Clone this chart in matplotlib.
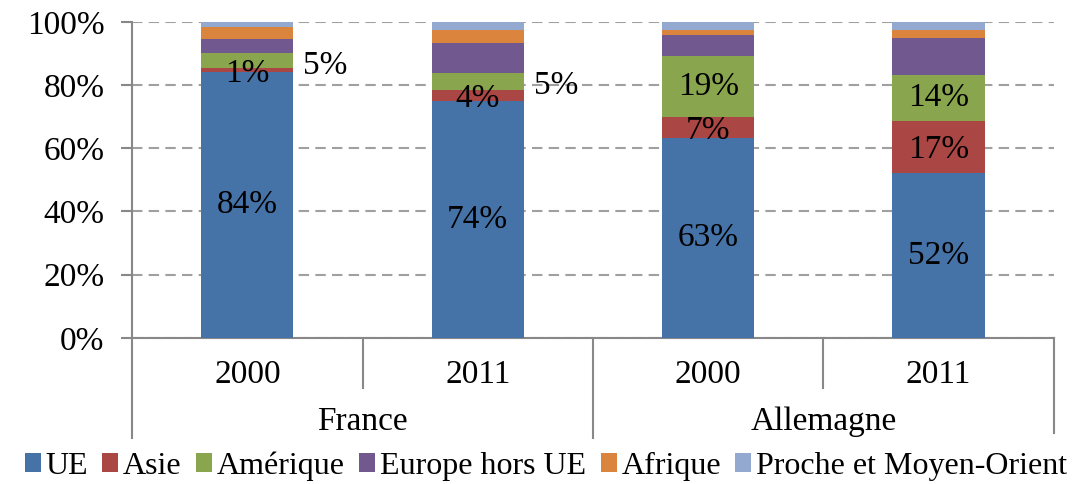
import numpy as np
import matplotlib.pyplot as plt
import matplotlib.transforms as mtransforms

plt.rcParams['font.family'] = ['Liberation Serif', 'DejaVu Serif']

years = ["2000", "2011", "2000", "2011"]
countries = ["France", "Allemagne"]
regions = ["UE", "Asie", "Amérique", "Europe hors UE", "Afrique", "Proche et Moyen-Orient"]
colors = ["#4572A7", "#AA4643", "#89A54E", "#71588F", "#DB843D", "#93A9CF"]

# share of exports (%) per region, one value per bar
ue = [84.0, 74.8, 63.2, 52.1]
asie = [1.3, 3.7, 6.6, 16.6]
amerique = [4.8, 5.3, 19.4, 14.5]
europe_hors_ue = [4.5, 9.5, 6.7, 11.6]
afrique = [3.7, 4.2, 1.6, 2.7]
proche_orient = [1.7, 2.5, 2.5, 2.5]

# printed labels (UE, Asie, Amérique)
lab_ue = ["84%", "74%", "63%", "52%"]
lab_asie = ["1%", "4%", "7%", "17%"]
lab_amerique = ["5%", "5%", "19%", "14%"]
outside = [True, True, False, False]

series = [ue, asie, amerique, europe_hors_ue, afrique, proche_orient]
fs = 24

fig = plt.figure(figsize=(10.92, 4.84), dpi=100)
ax = fig.add_axes([0.121, 0.302, 0.844, 0.653])

x = np.arange(len(years))
bottom = np.zeros(len(years))
bottoms = []
for vals, col, name in zip(series, colors, regions):
    bottoms.append(bottom.copy())
    ax.bar(x, vals, 0.4, bottom=bottom, color=col, label=name, zorder=3)
    bottom = bottom + np.array(vals)

# data labels
for i in range(len(years)):
    ax.text(x[i], bottoms[0][i] + ue[i] / 2, lab_ue[i], ha="center", va="center", fontsize=fs, zorder=4)
    ax.text(x[i], bottoms[1][i] + asie[i] / 2 - 1, lab_asie[i], ha="center", va="center", fontsize=fs, zorder=4)
    yc = bottoms[2][i] + amerique[i] / 2
    if outside[i]:
        ax.text(x[i] + 0.34, yc - 1.5, lab_amerique[i], ha="center", va="center", fontsize=fs, zorder=4)
    else:
        ax.text(x[i], yc, lab_amerique[i], ha="center", va="center", fontsize=fs, zorder=4)

ax.set_xlim(-0.5, 3.5)
ax.set_ylim(0, 100)
ax.set_yticks(range(0, 101, 20))
ax.set_yticklabels([f"{v}%" for v in range(0, 101, 20)], fontsize=fs)
ax.set_xticks([])
ax.yaxis.grid(True, linestyle=(0, (5, 3)), color="#A0A0A0", linewidth=1.5, zorder=0)
for s in ["top", "right"]:
    ax.spines[s].set_visible(False)
ax.spines["left"].set_color("#888888")
ax.spines["bottom"].set_color("#888888")
ax.spines["left"].set_linewidth(1.5)
ax.spines["bottom"].set_linewidth(1.5)
ax.tick_params(axis="y", length=8, color="#888888", width=1.5, pad=12)

# category axis with two levels
trans = mtransforms.blended_transform_factory(ax.transData, ax.transAxes)
for i, yr in enumerate(years):
    ax.text(x[i], -0.117, yr, transform=trans, ha="center", va="center", fontsize=fs)
for j, c in enumerate(countries):
    ax.text(2 * j + 0.5, -0.266, c, transform=trans, ha="center", va="center", fontsize=fs)
for xs, ylo in [(-0.5, -0.316), (0.5, -0.158), (1.5, -0.316), (2.5, -0.158), (3.5, -0.30)]:
    ax.plot([xs, xs], [0, ylo], transform=trans, color="#888888", linewidth=1.5, clip_on=False)

fig.legend(loc="center", bbox_to_anchor=(0.5, 0.037), ncol=6, frameon=False, fontsize=23,
           handlelength=0.5, handleheight=0.5, handletextpad=0.15, columnspacing=0.45,
           borderaxespad=0)

fig.savefig("out.png", dpi=100)
